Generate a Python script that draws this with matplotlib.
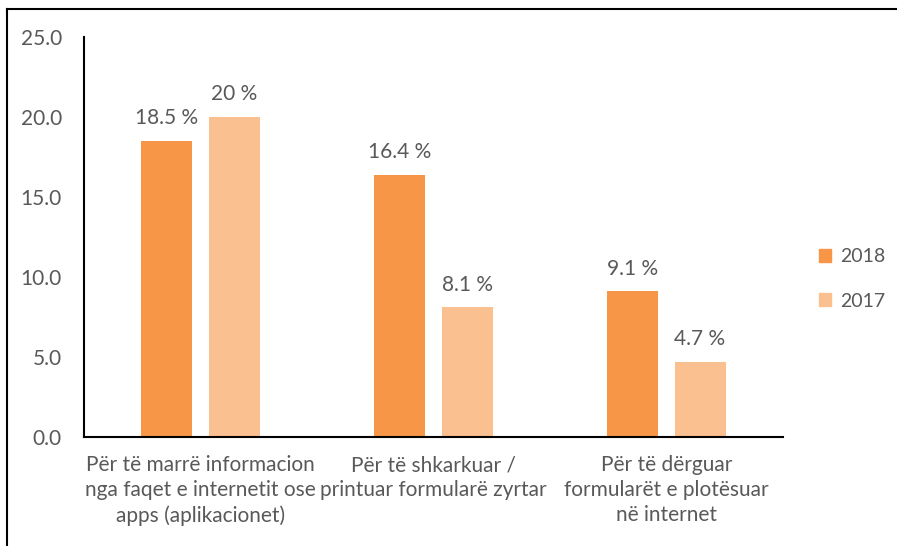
import numpy as np
import matplotlib.pyplot as plt
from matplotlib.lines import Line2D
from matplotlib.patches import Patch

plt.rcParams['font.family'] = ['Lato', 'DejaVu Sans']

categories = ["Për të marrë informacion\nnga faqet e internetit ose\napps (aplikacionet)",
              "Për të shkarkuar /\nprintuar formularë zyrtar",
              "Për të dërguar\nformularët e plotësuar\nnë internet"]
years = ["2018", "2017"]
v2018 = [18.5, 16.4, 9.1]
v2017 = [20.0, 8.1, 4.7]
lab2018 = ["18.5 %", "16.4 %", "9.1 %"]
lab2017 = ["20 %", "8.1 %", "4.7 %"]
yticks = [0, 5, 10, 15, 20, 25]

c2018 = "#F79646"
c2017 = "#FAC090"
grey = "#595959"

fig = plt.figure(figsize=(8.97, 5.46), dpi=100)
ax = fig.add_axes([84 / 897, 1 - 437 / 546, 699 / 897, 400 / 546])

x = np.arange(len(categories))
w = 0.219
off = 0.144
b1 = ax.bar(x - off, v2018, w, color=c2018)
b2 = ax.bar(x + off, v2017, w, color=c2017)

for bars, labs in ((b1, lab2018), (b2, lab2017)):
    for b, t in zip(bars, labs):
        ax.annotate(t, (b.get_x() + b.get_width() / 2, b.get_height()),
                    xytext=(0, 9), textcoords="offset points",
                    ha="center", va="bottom", fontsize=15, color=grey)

ax.set_xlim(-0.5, 2.5)
ax.set_ylim(0, 25)
ax.set_yticks(yticks)
ax.set_yticklabels([f"{v:.1f}" for v in yticks], fontsize=15, color=grey)
ax.set_xticks(x)
ax.set_xticklabels(categories, fontsize=15, color=grey, linespacing=1.32)
ax.tick_params(axis="both", length=0)
ax.tick_params(axis="y", pad=16)
ax.tick_params(axis="x", pad=13)
for s in ("top", "right"):
    ax.spines[s].set_visible(False)
for s in ("left", "bottom"):
    ax.spines[s].set_linewidth(1.5)
    ax.spines[s].set_color("black")

handles = [Patch(color=c2018), Patch(color=c2017)]
fig.legend(handles, years, loc="center left", bbox_to_anchor=(809 / 897, 1 - 279 / 546),
           frameon=False, fontsize=14, labelcolor=grey, handlelength=0.65, handleheight=0.65,
           handletextpad=0.45, labelspacing=1.4, borderpad=0)

# outer frame lines (top and left)
fig.add_artist(Line2D([7 / 897, 1], [1 - 9 / 546, 1 - 9 / 546], color="black", lw=1.5))
fig.add_artist(Line2D([7 / 897, 7 / 897], [0, 1 - 9 / 546], color="black", lw=1.5))

fig.savefig("out.png", dpi=100)
